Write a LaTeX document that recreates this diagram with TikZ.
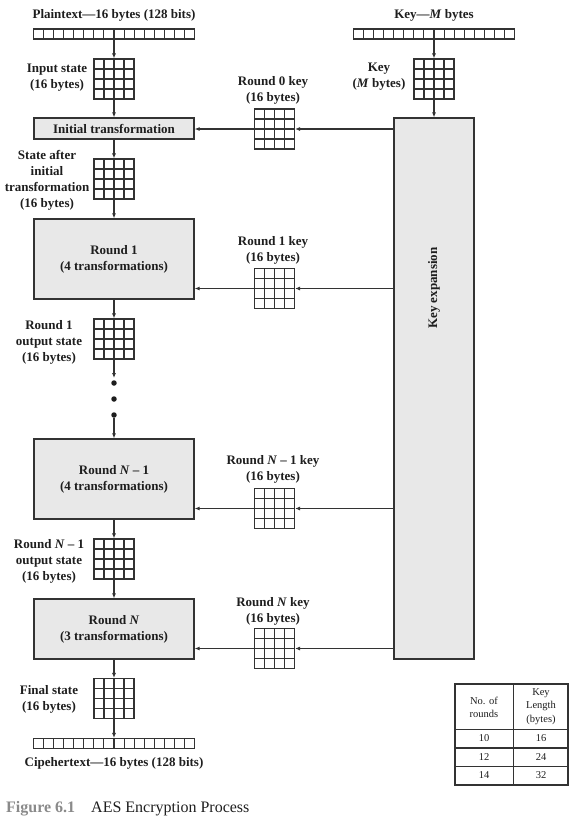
\documentclass[tikz,border=0pt]{standalone}
\usepackage{fontspec}
\setmainfont{Liberation Serif}
\usetikzlibrary{arrows.meta,calc}
\definecolor{lc}{HTML}{333333}
\definecolor{boxfill}{HTML}{E8E8E8}
\definecolor{tc}{HTML}{1E1E1E}
\definecolor{capgray}{HTML}{8A8A8A}
\tikzset{
  lbl/.style={font=\fontsize{13}{16}\selectfont\bfseries, text=tc, align=center, inner sep=0},
  gbox/.style={draw=lc, fill=boxfill, line width=1.2pt, inner sep=0, text=tc, align=center,
    font=\fontsize{13}{16}\selectfont\bfseries},
  arr/.style={draw=lc, line width=1.1pt, -{Latex[length=5pt,width=4pt]}},
  grid4/.style={draw=lc, fill=white, line width=1.1pt, minimum width=40pt, minimum height=40pt, inner sep=0,
    path picture={
      \foreach \k in {1,2,3}{
        \draw[lc,line width=1.1pt] ($(path picture bounding box.north west)!\k/4!(path picture bounding box.north east)$) -- ($(path picture bounding box.south west)!\k/4!(path picture bounding box.south east)$);
        \draw[lc,line width=1.1pt] ($(path picture bounding box.north west)!\k/4!(path picture bounding box.south west)$) -- ($(path picture bounding box.north east)!\k/4!(path picture bounding box.south east)$);
      }}},
  bar16/.style={draw=lc, fill=white, line width=1.1pt, minimum width=161pt, minimum height=10pt, inner sep=0,
    path picture={
      \foreach \k in {1,...,15}{
        \draw[lc,line width=1.1pt] ($(path picture bounding box.north west)!\k/16!(path picture bounding box.north east)$) -- ($(path picture bounding box.south west)!\k/16!(path picture bounding box.south east)$);
      }}},
  dot/.style={circle, fill=tc, inner sep=0, minimum size=5.5pt},
  tbl/.style={font=\fontsize{10.5}{13.5}\selectfont, text=tc, align=center, inner sep=0}
}
\begin{document}
\begin{tikzpicture}[x=1pt,y=-1pt]
\useasboundingbox (0,0) rectangle (577,823);

% left column
\node[bar16] (pt) at (114,34) {};
\node[lbl] (ptl) at (114,15) {Plaintext—16 bytes (128 bits)};
\node[grid4] (ins) at (114,79) {};
\node[lbl] (insl) at (57,78) {Input state\\(16 bytes)};
\node[gbox, minimum width=160pt, minimum height=21pt] (init) at (114,128.5) {Initial transformation};
\node[grid4] (sai) at (114,179) {};
\node[lbl] (sail) at (47,180) {State after\\initial\\transformation\\(16 bytes)};
\node[gbox, minimum width=160pt, minimum height=80pt] (r1) at (114,259) {Round 1\\(4 transformations)};
\node[grid4] (r1o) at (114,339) {};
\node[lbl] (r1ol) at (49,342) {Round 1\\output state\\(16 bytes)};
\node[dot] (d1) at (114,383) {};
\node[dot] (d2) at (114,399) {};
\node[dot] (d3) at (114,415) {};
\node[gbox, minimum width=160pt, minimum height=80pt] (rn1) at (114,479) {Round \textit{N} – 1\\(4 transformations)};
\node[grid4] (rn1o) at (114,559) {};
\node[lbl] (rn1ol) at (49,561) {Round \textit{N} – 1\\output state\\(16 bytes)};
\node[gbox, minimum width=160pt, minimum height=60pt] (rn) at (114,629) {Round \textit{N}\\(3 transformations)};
\node[grid4] (fin) at (114,698.5) {};
\node[lbl] (finl) at (49,699) {Final state\\(16 bytes)};
\node[bar16] (ct) at (114,743.5) {};
\node[lbl] (ctl) at (114,763) {Cipehertext—16 bytes (128 bits)};

% key column
\node[bar16] (kb) at (434,34) {};
\node[lbl] (kbl) at (434,15) {Key—\textit{M} bytes};
\node[grid4] (kg) at (434,79) {};
\node[lbl] (kgl) at (379,77) {Key\\(\textit{M} bytes)};
\node[gbox, minimum width=80pt, minimum height=541pt] (kx) at (434,388.5) {};
\node[lbl, rotate=90] (kxl) at (434,288) {Key expansion};

% round keys
\node[grid4] (k0) at (274.5,129) {};
\node[lbl] (k0l) at (273,90) {Round 0 key\\(16 bytes)};
\node[grid4] (k1) at (274.5,288.5) {};
\node[lbl] (k1l) at (273,250.5) {Round 1 key\\(16 bytes)};
\node[grid4] (kn1) at (274.5,508.5) {};
\node[lbl] (kn1l) at (273,469.5) {Round \textit{N} – 1 key\\(16 bytes)};
\node[grid4] (kn) at (274.5,648.5) {};
\node[lbl] (knl) at (273,611.5) {Round \textit{N} key\\(16 bytes)};

% vertical arrows
\draw[arr] (pt) -- (ins);
\draw[arr] (ins) -- (init);
\draw[arr] (init) -- (sai);
\draw[arr] (sai) -- (r1);
\draw[arr] (r1) -- (r1o);
\draw[arr] (r1o.south) -- ($(d1.north)+(0,-2)$);
\draw[arr] (d3) -- (rn1);
\draw[arr] (rn1) -- (rn1o);
\draw[arr] (rn1o) -- (rn);
\draw[arr] (rn) -- (fin);
\draw[arr] (fin) -- (ct);
\draw[arr] (kb) -- (kg);
\draw[arr] (kg) -- (kx);

% horizontal arrows
\draw[arr] (kx.west |- k0.east) -- (k0.east);
\draw[arr] (k0.west) -- (k0.west -| init.east);
\draw[arr] (kx.west |- k1.east) -- (k1.east);
\draw[arr] (k1.west) -- (k1.west -| r1.east);
\draw[arr] (kx.west |- kn1.east) -- (kn1.east);
\draw[arr] (kn1.west) -- (kn1.west -| rn1.east);
\draw[arr] (kx.west |- kn.east) -- (kn.east);
\draw[arr] (kn.west) -- (kn.west -| rn.east);

% table
\draw[lc, line width=1.1pt] (455,684) rectangle (568,785);
\draw[lc, line width=.9pt] (513,684) -- (513,785);
\draw[lc, line width=.9pt] (455,729) -- (568,729);
\draw[lc, line width=1.7pt] (455,748) -- (568,748);
\draw[lc, line width=.9pt] (455,766) -- (568,766);
\node[tbl] (th1) at (484,707.5) {No. of\\rounds};
\node[tbl] (th2) at (541,706.5) {Key\\Length\\(bytes)};
\node[tbl] (a1) at (484,738.5) {10};
\node[tbl] (b1) at (541,738.5) {16};
\node[tbl] (a2) at (484,757) {12};
\node[tbl] (b2) at (541,757) {24};
\node[tbl] (a3) at (484,775.5) {14};
\node[tbl] (b3) at (541,775.5) {32};

% caption
\node[anchor=base west, inner sep=0, font=\fontsize{16}{19}\selectfont, text=tc] (cap) at (6,812)
  {{\color{capgray}\bfseries Figure 6.1}\hspace{1em}AES Encryption Process};
\end{tikzpicture}
\end{document}
